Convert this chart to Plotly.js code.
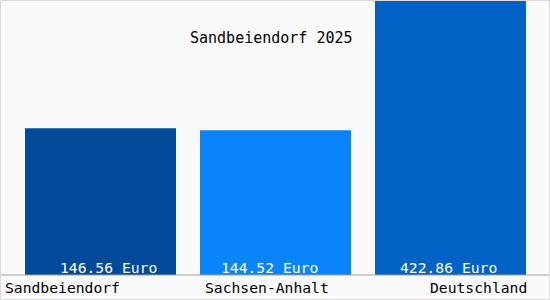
<!DOCTYPE html>
<html>
<head>
<meta charset="utf-8">
<script src="https://cdn.plot.ly/plotly-3.0.1.min.js"></script>
<style>
html,body{margin:0;padding:0;background:#fafafa;}
#chart{width:550px;height:300px;}
</style>
</head>
<body>
<div id="chart"></div>
<script>
const categories = ["Sandbeiendorf", "Sachsen-Anhalt", "Deutschland"];
const values = [146.56, 144.52, 422.86];
const valueLabels = ["146.56 Euro", "144.52 Euro", "422.86 Euro"];
const barColors = ["#004a99", "#0a84fa", "#0062c4"];
const chartTitle = "Sandbeiendorf 2025";

const FONT = "DejaVu Sans Mono, monospace";
const W = 550, H = 300, PLOT_H = 275;

// label placement (styles)
const catAnchor = ["left", "center", "right"];
const catPx = [4, 267, 528];
const valPx = [108.5, 269, 448.5];

const annotations = [];
categories.forEach((c, i) => {
  annotations.push({
    text: c, xref: "paper", yref: "paper",
    x: catPx[i] / W, xanchor: catAnchor[i],
    y: -12.5 / PLOT_H, yanchor: "middle",
    showarrow: false, borderpad: 0,
    font: {family: FONT, size: 14.7, color: "#000000"}
  });
  annotations.push({
    text: valueLabels[i], xref: "paper", yref: "paper",
    x: valPx[i] / W, xanchor: "center",
    y: 8 / PLOT_H, yanchor: "middle",
    showarrow: false, borderpad: 0,
    font: {family: FONT, size: 14.7, color: "#ffffff"}
  });
});
annotations.push({
  text: chartTitle, xref: "paper", yref: "paper",
  x: 271 / W, xanchor: "center",
  y: (PLOT_H - 37.5) / PLOT_H, yanchor: "middle",
  showarrow: false, borderpad: 0,
  font: {family: FONT, size: 15, color: "#000000"}
});

const data = [{
  type: "bar",
  x: categories,
  y: values,
  marker: {color: barColors, line: {width: 0}},
  hoverinfo: "none",
  textposition: "none"
}];

const layout = {
  width: W, height: H,
  margin: {l: 0, r: 0, t: 0, b: H - PLOT_H, pad: 0},
  paper_bgcolor: "#fafafa",
  plot_bgcolor: "#fafafa",
  showlegend: false,
  bargap: 24 / 175,
  xaxis: {
    type: "category",
    range: [-100.5 / 175, (W - 100.5) / 175],
    showticklabels: false, ticks: "", showgrid: false, zeroline: false,
    showline: false, fixedrange: true
  },
  yaxis: {
    range: [0, 274.5],
    showticklabels: false, ticks: "", showgrid: false, zeroline: false,
    showline: false, fixedrange: true
  },
  annotations: annotations,
  shapes: [
    {type: "line", xref: "paper", yref: "paper", x0: 0, x1: 1, y0: 0, y1: 0,
     line: {color: "#a0a0a0", width: 1}},
    {type: "rect", xref: "paper", yref: "paper",
     x0: 0.5 / W, x1: (W - 0.5) / W,
     y0: -(H - PLOT_H - 0.5) / PLOT_H, y1: (PLOT_H - 0.5) / PLOT_H,
     line: {color: "#dcdcdc", width: 1}, fillcolor: "rgba(0,0,0,0)", layer: "above"}
  ]
};

Plotly.newPlot("chart", data, layout, {displayModeBar: false, staticPlot: true});
</script>
</body>
</html>
